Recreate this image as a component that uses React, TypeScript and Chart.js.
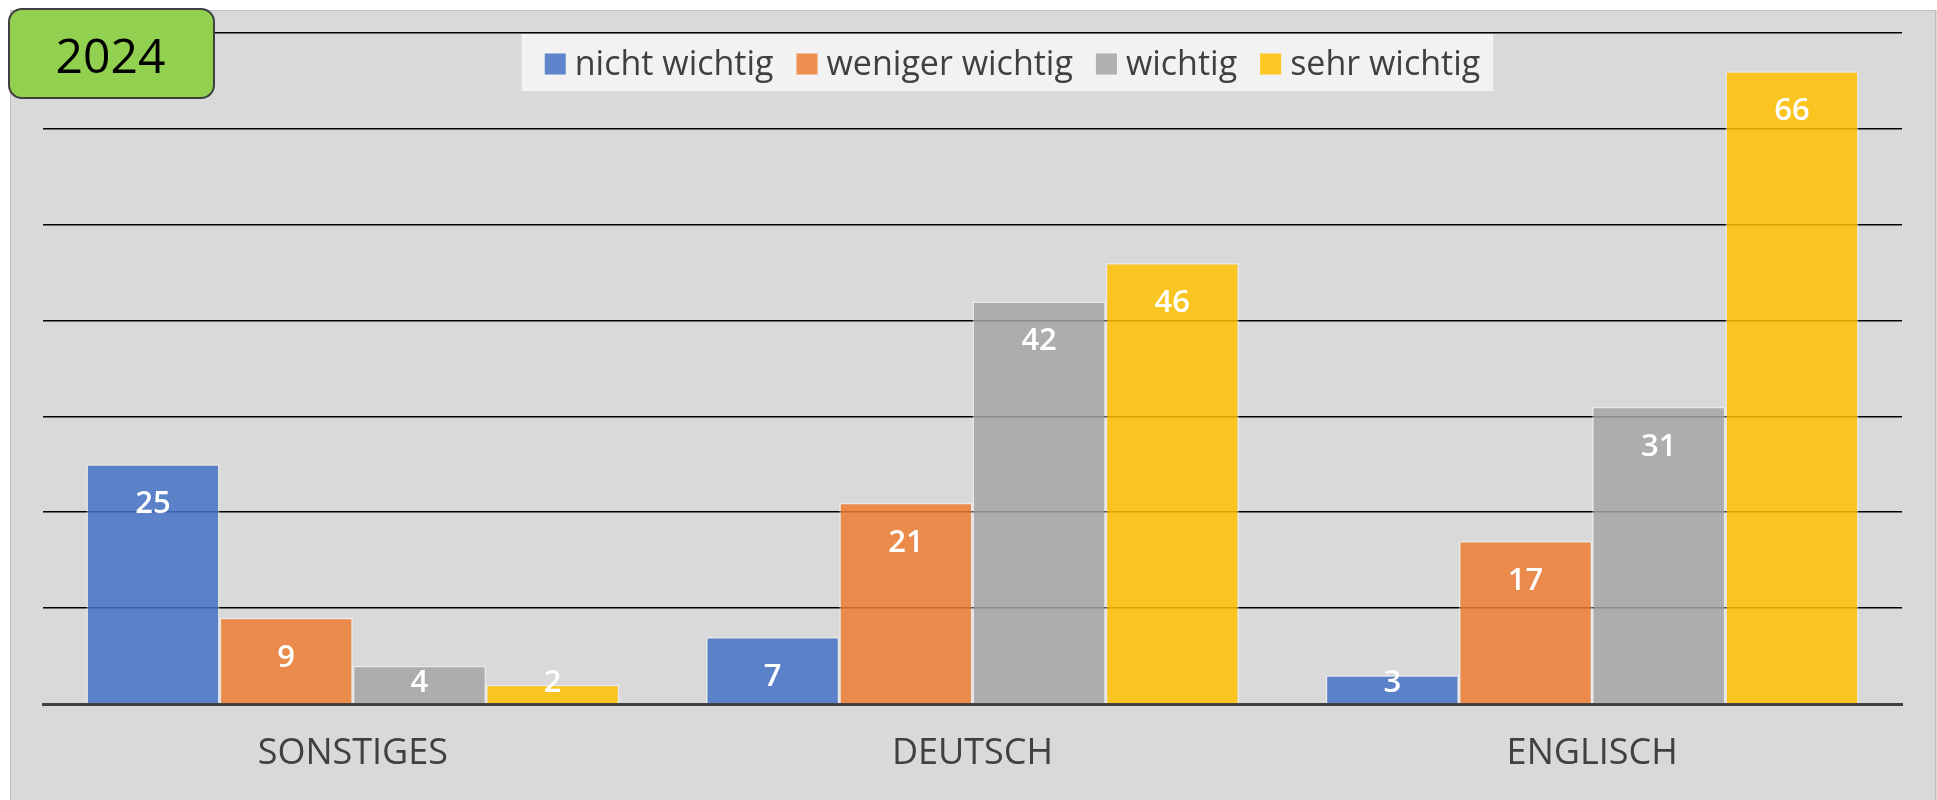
import React, { useEffect, useRef } from "react";
import { Chart, registerables } from "chart.js";

Chart.register(...registerables);

// ---- data ----
const categories = ["SONSTIGES", "DEUTSCH", "ENGLISCH"];
const seriesLabels = ["nicht wichtig", "weniger wichtig", "wichtig", "sehr wichtig"];
const nichtWichtig = [25, 7, 3];
const wenigerWichtig = [9, 21, 17];
const wichtig = [4, 42, 31];
const sehrWichtig = [2, 46, 66];
const yearLabel = "2024";
const yMin = 0;
const yMax = 70;
const yStep = 10;

const seriesValues = [nichtWichtig, wenigerWichtig, wichtig, sehrWichtig];
const seriesColors = [
  "rgba(68,114,196,0.85)",
  "rgba(237,125,49,0.85)",
  "rgba(165,165,165,0.85)",
  "rgba(255,192,0,0.85)",
];

const FONT = "'Open Sans', 'Noto Sans', sans-serif";

const overlayPlugin = {
  id: "overlay",
  beforeDraw(chart: any) {
    const ctx = chart.ctx;
    ctx.save();
    ctx.fillStyle = "#ffffff";
    ctx.fillRect(0, 0, chart.width, chart.height);
    ctx.fillStyle = "#d9d9d9";
    ctx.fillRect(10, 10, chart.width - 10, chart.height - 10);
    ctx.strokeStyle = "#bfbfbf";
    ctx.lineWidth = 1;
    ctx.strokeRect(10.5, 10.5, chart.width - 12, chart.height);
    ctx.restore();
  },
  afterDatasetsDraw(chart: any) {
    const ctx = chart.ctx;
    ctx.save();
    ctx.fillStyle = "#ffffff";
    ctx.font = `600 31px ${FONT}`;
    ctx.textAlign = "center";
    ctx.textBaseline = "middle";
    chart.data.datasets.forEach((ds: any, i: number) => {
      const meta = chart.getDatasetMeta(i);
      meta.data.forEach((el: any, j: number) => {
        const p = el.getProps(["x", "y", "base"], true);
        const ty = Math.min(p.y + 40, p.base - 20);
        ctx.fillText(String(ds.data[j]), p.x, ty);
      });
    });
    ctx.restore();
  },
  afterDraw(chart: any) {
    const ctx = chart.ctx;
    const area = chart.chartArea;
    ctx.save();
    // legend
    ctx.font = `34px ${FONT}`;
    const items = chart.data.datasets.map((ds: any) => ({
      label: ds.label,
      color: ds.backgroundColor,
      w: ctx.measureText(ds.label).width,
    }));
    const sq = 21;
    const gapSqText = 9;
    const gapItems = 23;
    const padL = 23;
    const padR = 13;
    let total = padL + padR;
    items.forEach((it: any, k: number) => {
      total += sq + gapSqText + it.w + (k < items.length - 1 ? gapItems : 0);
    });
    const cx = (area.left + area.right) / 2 + 35;
    const boxL = cx - total / 2;
    const boxT = area.top + 1;
    const boxH = 57;
    ctx.fillStyle = "#f2f2f2";
    ctx.fillRect(boxL, boxT, total, boxH);
    let x = boxL + padL;
    const midY = boxT + 30;
    items.forEach((it: any) => {
      ctx.fillStyle = it.color;
      ctx.fillRect(x, midY - sq / 2, sq, sq);
      x += sq + gapSqText;
      ctx.fillStyle = "#404040";
      ctx.textAlign = "left";
      ctx.textBaseline = "alphabetic";
      ctx.fillText(it.label, x, midY + 11);
      x += it.w + gapItems;
    });

    // year box
    const bx = 9, by = 9, bw = 205, bh = 89, r = 13;
    ctx.beginPath();
    ctx.moveTo(bx + r, by);
    ctx.lineTo(bx + bw - r, by);
    ctx.arcTo(bx + bw, by, bx + bw, by + r, r);
    ctx.lineTo(bx + bw, by + bh - r);
    ctx.arcTo(bx + bw, by + bh, bx + bw - r, by + bh, r);
    ctx.lineTo(bx + r, by + bh);
    ctx.arcTo(bx, by + bh, bx, by + bh - r, r);
    ctx.lineTo(bx, by + r);
    ctx.arcTo(bx, by, bx + r, by, r);
    ctx.closePath();
    ctx.fillStyle = "#92d050";
    ctx.fill();
    ctx.strokeStyle = "#404040";
    ctx.lineWidth = 2;
    ctx.stroke();
    ctx.fillStyle = "#000000";
    ctx.font = `48px ${FONT}`;
    ctx.textAlign = "center";
    ctx.textBaseline = "middle";
    ctx.fillText(yearLabel, bx + bw / 2 - 1, by + bh / 2 + 6);
    ctx.restore();
  },
};

export default function App() {
  const canvasRef = useRef<HTMLCanvasElement | null>(null);

  useEffect(() => {
    const canvas = canvasRef.current;
    if (!canvas) return;
    const chart = new Chart(canvas, {
      type: "bar",
      data: {
        labels: categories,
        datasets: seriesLabels.map((label, i) => ({
          label,
          data: seriesValues[i],
          backgroundColor: seriesColors[i],
          borderColor: "rgba(255,255,255,0.45)",
          borderWidth: 1.5,
          categoryPercentage: 0.86,
          barPercentage: 1.0,
        })),
      },
      options: {
        responsive: false,
        animation: false,
        devicePixelRatio: 1,
        layout: { padding: { left: 43, right: 35, top: 33, bottom: 0 } },
        plugins: {
          legend: { display: false },
          tooltip: { enabled: false },
          title: { display: false },
        },
        scales: {
          x: {
            grid: { display: false, drawTicks: false },
            border: { display: true, color: "#404040", width: 3 },
            ticks: {
              color: "#404040",
              font: { family: FONT, size: 36 },
              padding: 28,
              maxRotation: 0,
            },
            afterFit: (scale: any) => {
              scale.height = 96;
            },
          },
          y: {
            min: yMin,
            max: yMax,
            ticks: { display: false, stepSize: yStep },
            border: { display: false },
            grid: {
              drawTicks: false,
              lineWidth: 1.6,
              color: (c: any) => (c.tick && c.tick.value === 0 ? "rgba(0,0,0,0)" : "#000000"),
            },
          },
        },
      },
      plugins: [overlayPlugin],
    });
    return () => chart.destroy();
  }, []);

  return (
    <div style={{ position: "fixed", left: 0, top: 0, width: 1937, height: 800, overflow: "hidden" }}>
      <canvas ref={canvasRef} width={1937} height={800} style={{ display: "block" }} />
    </div>
  );
}
